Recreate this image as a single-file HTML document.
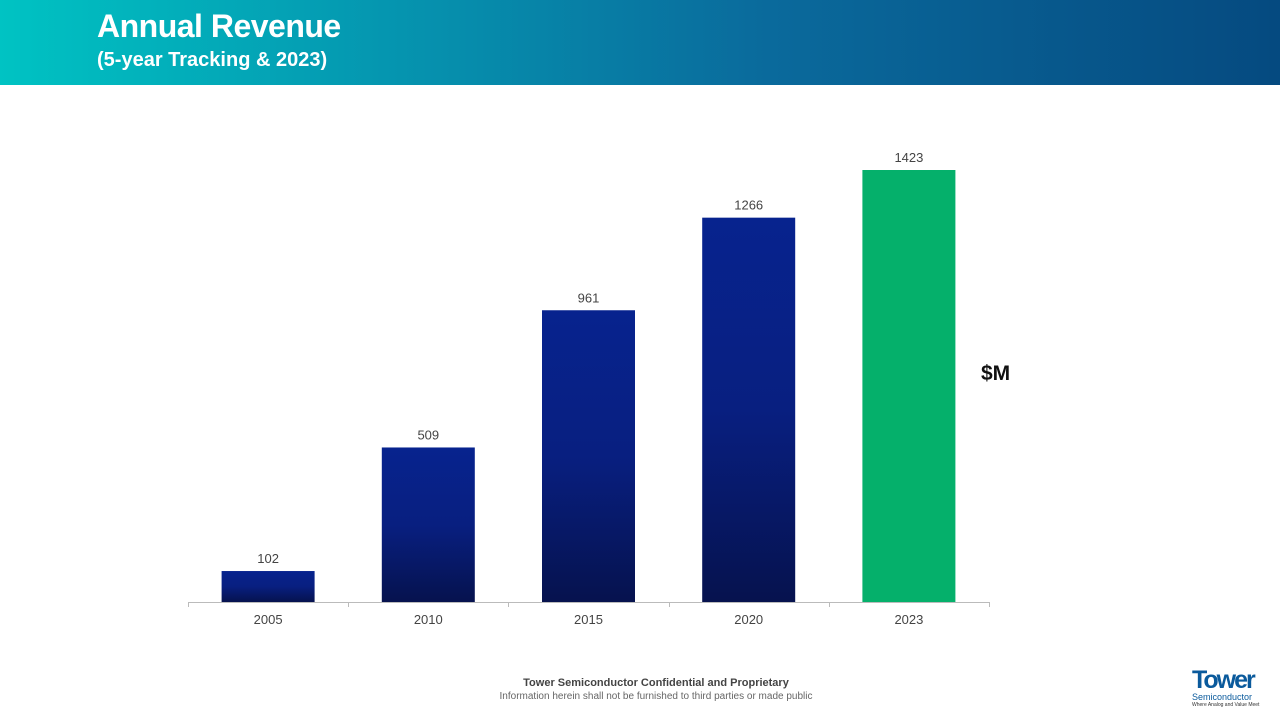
<!DOCTYPE html>
<html><head><meta charset="utf-8"><style>
body{margin:0;width:1280px;height:720px;background:#fff;position:relative;overflow:hidden;font-family:"Liberation Sans",sans-serif}
#hdr{position:absolute;left:0;top:0;width:1280px;height:85px;background:linear-gradient(90deg,#00c3c3 0%,#0596b0 30%,#0a6a9c 60%,#054a80 100%)}
#t1{position:absolute;left:97px;top:8px;color:#fff;font-weight:bold;font-size:32px;letter-spacing:-0.5px}
#t2{position:absolute;left:97px;top:49px;color:#fff;font-weight:bold;font-size:20px}
#foot1{position:absolute;left:0;width:1312px;top:677px;text-align:center;font-size:11px;font-weight:bold;color:#444}
#foot2{position:absolute;left:0;width:1312px;top:691px;text-align:center;font-size:10px;color:#666}
</style></head><body>
<div id="hdr"></div>
<div id="t1">Annual Revenue</div>
<div id="t2">(5-year Tracking &amp; 2023)</div>
<svg id="chart" width="1280" height="720" style="position:absolute;left:0;top:0">
<defs><linearGradient id="bg" x1="0" y1="0" x2="0" y2="1"><stop offset="0" stop-color="#07238e"/><stop offset="0.5" stop-color="#081f80"/><stop offset="1" stop-color="#06124e"/></linearGradient></defs>
<g id="bars"></g>
<text x="981" y="380" font-size="21" font-weight="bold" fill="#111" font-family="Liberation Sans">$M</text>
</svg>
<div id="foot1">Tower Semiconductor Confidential and Proprietary</div>
<div id="foot2">Information herein shall not be furnished to third parties or made public</div>
<div style="position:absolute;left:1192px;top:668px;width:80px">
<div style="font-size:25px;font-weight:bold;color:#0a5a9c;letter-spacing:-2px;line-height:24px">Tower</div>
<div style="font-size:9px;color:#0a5a9c;line-height:10px">Semiconductor</div>
<div style="font-size:5px;color:#333;line-height:7px">Where Analog and Value Meet</div>
</div>
<script>
const categories=["2005","2010","2015","2020","2023"];
const values=[102,509,961,1266,1423];
const colors=["url(#bg)","url(#bg)","url(#bg)","url(#bg)","#05b06b"];
const ns="http://www.w3.org/2000/svg";
const g=document.getElementById('bars');
const x0=188,x1=989,base=602,maxV=1423,topY=170;
const bw=(x1-x0)/categories.length;
const y=v=>base-(v/maxV)*(base-topY);
function mk(t,a){const e=document.createElementNS(ns,t);for(const k in a)e.setAttribute(k,a[k]);g.appendChild(e);return e;}
categories.forEach((c,i)=>{
 const cx=x0+bw*(i+0.5);
 const r=mk('rect',{x:cx-46.5,y:y(values[i]),width:93,height:base-y(values[i]),fill:colors[i]});
 
 
 const l=mk('text',{x:cx,y:y(values[i])-8,'text-anchor':'middle','font-size':13,fill:'#444'});
 l.textContent=values[i];
 
 
 const t=mk('text',{x:cx,y:624,'text-anchor':'middle','font-size':13,fill:'#444'});
 t.textContent=c;
 
 
});
const ax=mk('line',{x1:x0,x2:x1,y1:base+0.5,y2:base+0.5,stroke:'#bbb'});


for(let i=0;i<=categories.length;i++){const tx=Math.round(x0+bw*i)+0.5;const tk=mk('line',{x1:tx,x2:tx,y1:base,y2:base+5,stroke:'#bbb'});

}
</script>
</body></html>
